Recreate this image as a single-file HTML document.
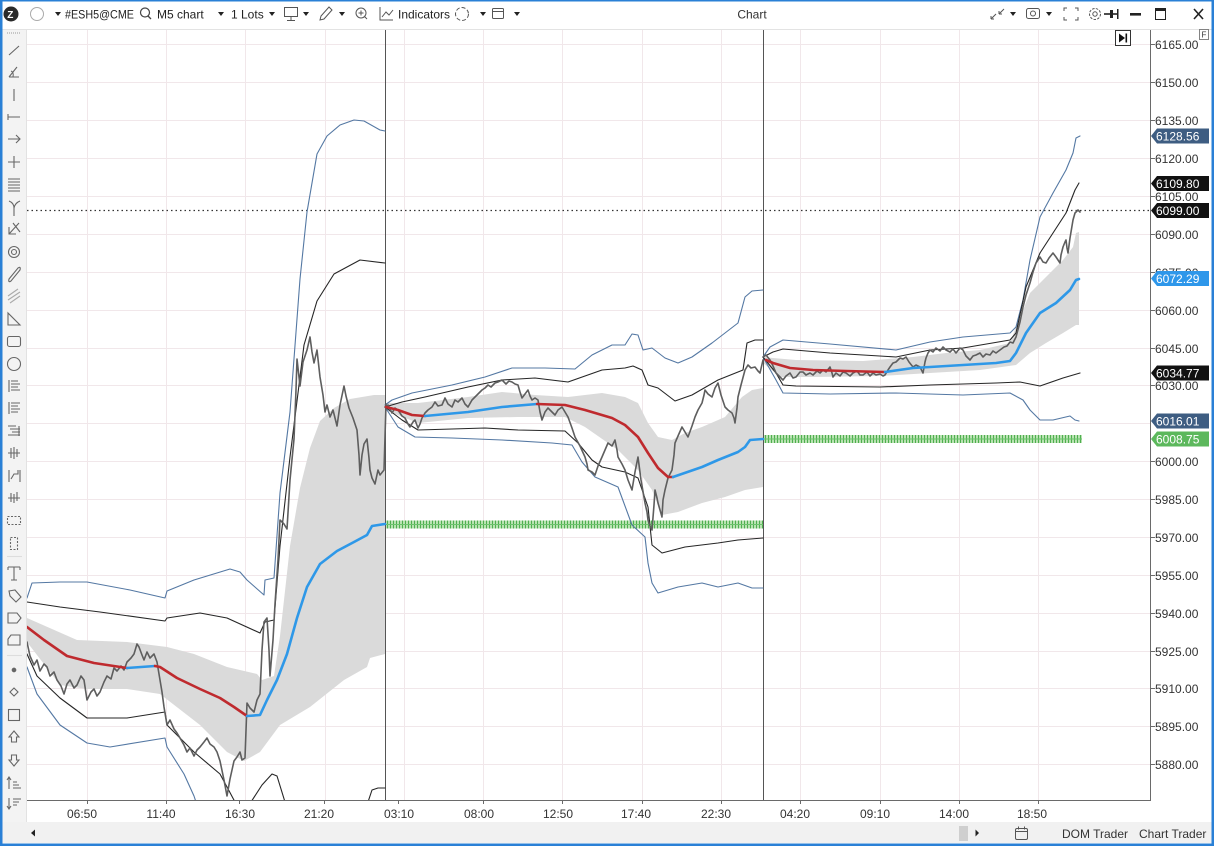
<!DOCTYPE html>
<html><head><meta charset="utf-8">
<style>
html,body{margin:0;padding:0;background:#fff;}
svg{display:block;}
text{font-family:"Liberation Sans",sans-serif;}
</style></head>
<body>
<svg width="1214" height="846" viewBox="0 0 1214 846" xmlns="http://www.w3.org/2000/svg">
<defs>
<clipPath id="plot"><rect x="27" y="30" width="1123" height="770"/></clipPath>
<pattern id="hatch" width="3" height="8" patternUnits="userSpaceOnUse">
<rect width="3" height="8" fill="#b9e3b2"/><rect x="0" width="1" height="8" fill="#4fae4f"/>
</pattern>
</defs>

<!-- backgrounds -->
<rect x="0" y="0" width="1214" height="846" fill="#fff"/>
<rect x="0" y="0" width="1214" height="29" fill="#fff"/>
<line x1="0" y1="29.5" x2="1214" y2="29.5" stroke="#e3e3e3"/>
<rect x="2" y="30" width="25" height="792" fill="#f3f3f3"/>
<line x1="26.5" y1="30" x2="26.5" y2="822" stroke="#e2e2e2"/>

<!-- grid -->
<g stroke="#f1e7ea" stroke-width="1">
<line x1="27" x2="1150" y1="44.5" y2="44.5"/><line x1="27" x2="1150" y1="82.5" y2="82.5"/><line x1="27" x2="1150" y1="120.5" y2="120.5"/><line x1="27" x2="1150" y1="158.5" y2="158.5"/><line x1="27" x2="1150" y1="196.5" y2="196.5"/><line x1="27" x2="1150" y1="234.5" y2="234.5"/><line x1="27" x2="1150" y1="272.5" y2="272.5"/><line x1="27" x2="1150" y1="310.5" y2="310.5"/><line x1="27" x2="1150" y1="348.5" y2="348.5"/><line x1="27" x2="1150" y1="385.5" y2="385.5"/><line x1="27" x2="1150" y1="423.5" y2="423.5"/><line x1="27" x2="1150" y1="461.5" y2="461.5"/><line x1="27" x2="1150" y1="499.5" y2="499.5"/><line x1="27" x2="1150" y1="537.5" y2="537.5"/><line x1="27" x2="1150" y1="575.5" y2="575.5"/><line x1="27" x2="1150" y1="613.5" y2="613.5"/><line x1="27" x2="1150" y1="651.5" y2="651.5"/><line x1="27" x2="1150" y1="688.5" y2="688.5"/><line x1="27" x2="1150" y1="726.5" y2="726.5"/><line x1="27" x2="1150" y1="764.5" y2="764.5"/>
<line y1="30" y2="800" x1="87.5" x2="87.5"/><line y1="30" y2="800" x1="166.5" x2="166.5"/><line y1="30" y2="800" x1="245.5" x2="245.5"/><line y1="30" y2="800" x1="325.5" x2="325.5"/><line y1="30" y2="800" x1="404.5" x2="404.5"/><line y1="30" y2="800" x1="483.5" x2="483.5"/><line y1="30" y2="800" x1="562.5" x2="562.5"/><line y1="30" y2="800" x1="642.5" x2="642.5"/><line y1="30" y2="800" x1="721.5" x2="721.5"/><line y1="30" y2="800" x1="800.5" x2="800.5"/><line y1="30" y2="800" x1="880.5" x2="880.5"/><line y1="30" y2="800" x1="959.5" x2="959.5"/><line y1="30" y2="800" x1="1038.5" x2="1038.5"/>
</g>

<g clip-path="url(#plot)">
<g fill="#dadada" stroke="none">
<polygon points="27,618 77,640 127,642 167,647 194,654 227,667 257,674 262,680 274,676 280,636 290,546 300,488 310,448 320,421 334,408 350,399 374,395 385,395 385,654 370,658 367,667 344,680 310,707 280,725 260,752 244,761 227,752 200,725 160,694 127,689 87,689 60,685 27,642"/>
<polygon points="385,403 418,403 468,397 502,392 535,395 568,397 602,393 625,397 638,403 648,423 658,437 672,440 685,433 702,427 725,417 742,397 752,390 763,388 763,487 745,490 725,497 702,503 678,512 662,515 652,490 638,470 618,450 585,427 565,417 518,417 468,418 418,423 385,410"/>
<polygon points="763,357 773,358 796,360 863,361 913,357 946,353 980,350 1010,343 1016,327 1030,293 1046,277 1063,260 1073,247 1076,233 1079,232 1079,325 1076,325 1063,333 1046,343 1030,353 1016,365 980,370 930,373 880,376 813,377 780,377 763,363"/>
</g>

<rect x="386" y="520.5" width="377" height="8" fill="url(#hatch)"/>
<line x1="386" x2="763" y1="524.5" y2="524.5" stroke="#6cc46c" stroke-width="1"/>
<rect x="764" y="435" width="318" height="8" fill="url(#hatch)"/>
<line x1="764" x2="1082" y1="439" y2="439" stroke="#6cc46c" stroke-width="1"/>

<line x1="27" x2="1150" y1="210.5" y2="210.5" stroke="#333" stroke-width="1.3" stroke-dasharray="1.5 3"/>

<line x1="385.5" x2="385.5" y1="30" y2="800" stroke="#555" stroke-width="1"/>
<line x1="763.5" x2="763.5" y1="30" y2="800" stroke="#555" stroke-width="1"/>

<g fill="none" stroke-linejoin="round" stroke-linecap="round">
<g stroke="#5478a3" stroke-width="1.1">
<polyline points="27,598 32,583 60,582 87,582 130,590 165,598 167,591 194,580 230,569 240,572 247,580 264,595 265,580 274,578 280,493 290,412 300,279 307,212 317,154 327,136 340,125 354,120 364,121 380,130 385,131"/>
<polyline points="27,667 37,694 60,725 87,743 110,747 165,738 167,747 184,774 194,796 197,805"/>
<polyline points="385,405 392,400 412,393 452,385 485,377 512,368 545,368 575,369 592,355 612,345 625,345 632,334 638,335 643,350 652,348 665,358 678,363 692,357 712,343 738,323 745,297 752,291 763,290"/>
<polyline points="385,407 398,427 415,437 452,438 502,440 552,443 572,445 582,462 595,477 618,487 632,525 645,537 648,563 652,583 658,593 678,587 702,583 718,587 738,583 752,588 763,588"/>
<polyline points="763,357 770,347 783,340 830,344 896,350 930,342 963,337 1010,333 1016,327 1023,300 1030,260 1040,217 1053,193 1066,170 1073,153 1076,138 1080,136"/>
<polyline points="763,357 776,380 783,393 830,394 896,393 963,395 1010,393 1023,400 1030,410 1040,420 1053,420 1070,416 1075,420 1079,421"/>
</g>
<g stroke="#262626" stroke-width="1.1">
<polyline points="27,602 60,607 100,612 165,621 167,618 200,613 227,618 260,633 265,622 274,620 280,546 290,457 304,345 317,301 334,274 360,260 385,263"/>
<polyline points="27,654 37,676 60,698 87,718 127,718 165,712 167,725 194,752 220,774 227,787 235,802"/>
<polyline points="251,802 262,785 272,774 277,776 285,802"/>
<polyline points="368,802 372,790 378,788 385,788"/>
<polyline points="385,407 402,402 425,397 468,387 502,380 535,378 568,382 602,370 625,368 633,366 642,370 648,385 658,388 675,401 692,395 718,380 743,370 747,343 755,340 763,340"/>
<polyline points="385,407 402,420 418,430 452,429 485,428 518,430 565,431 578,443 592,460 602,467 625,472 638,478 648,507 652,545 662,553 685,547 718,543 738,540 763,538"/>
<polyline points="763,357 773,352 783,349 830,353 896,357 930,350 963,348 1010,340 1016,333 1026,287 1040,253 1053,233 1066,213 1075,190 1079,183"/>
<polyline points="763,357 776,373 783,385 796,386 880,387 930,385 996,383 1020,382 1040,386 1063,378 1080,373"/>
</g>
<g stroke="#5e5e5e" stroke-width="1.6">
<polyline points="27,642 30,656 34,665 37,660 40,671 44,664 47,667 50,676 54,672 57,680 61,686 64,694 67,684 70,680 74,688 77,685 81,676 84,680 87,700 91,692 94,689 97,696 100,692 104,682 107,676 111,679 114,668 117,671 121,666 124,670 127,662 131,658 134,654 137,644 139,647 142,655 144,660 147,652 150,658 154,654 157,662 160,680 162,692 164,707 167,725 170,720 174,729 177,733 180,738 184,745 187,752 190,748 194,756 197,750 200,747 204,742 207,738 210,744 214,747 217,752 220,761 224,780 227,796 230,779 232,770 234,761 237,757 240,752 242,760 245,758 247,703 250,708 254,712 257,700 260,694 262,650 264,622 267,618 269,650 270,676 273,640 275,604 278,560 280,520 284,524 287,529 290,480 294,439 296,390 297,359 300,386 303,362 307,350 310,337 312,352 314,363 317,350 319,368 320,377 323,395 325,412 327,405 330,417 333,410 337,426 340,405 344,386 346,396 349,408 353,418 357,430 359,455 360,475 362,455 364,444 367,439 369,458 370,470 372,478 375,484 378,470 380,475 384,470 386,404"/>
<polyline points="385,407 388,405 392,413 395,408 398,410 402,416 405,418 408,424 410,427 413,422 415,420 418,428 420,424 422,418 425,413 428,410 432,407 435,402 438,406 442,405 445,398 448,404 452,407 455,400 458,402 462,398 465,404 468,407 472,400 475,397 478,394 482,390 485,388 488,385 491,387 495,383 498,382 502,380 506,384 509,381 512,382 515,384 518,385 520,392 522,398 525,394 528,390 530,396 532,400 535,398 538,400 540,412 542,420 545,412 548,408 552,412 555,415 558,410 562,407 565,412 568,417 572,428 575,437 580,446 585,457 587,464 588,470 592,472 595,475 598,466 602,457 605,450 608,443 612,446 615,440 617,450 618,457 622,464 625,470 628,480 632,490 635,472 638,457 641,480 645,503 647,512 648,520 650,526 652,530 654,505 655,490 657,498 658,503 660,510 662,517 663,500 665,490 668,478 672,470 674,455 675,443 678,436 682,427 685,432 688,437 692,426 695,417 698,410 702,403 704,395 705,390 708,394 712,397 715,388 718,383 721,395 725,407 728,410 732,413 734,418 735,423 737,408 738,397 741,385 745,370 748,365 751,368 755,367 758,371 760,373 763,360"/>
<polyline points="763,357 766,355 770,360 773,366 776,373 780,377 783,380 786,376 790,373 793,378 796,377 800,372 803,372 806,375 810,373 813,375 817,371 820,373 823,370 826,372 830,367 832,373 833,377 836,373 840,376 843,372 846,373 850,376 853,373 857,371 860,375 863,375 867,372 870,376 873,373 876,375 880,374 883,376 885,375 888,370 890,367 893,363 896,362 900,358 903,359 906,357 909,362 913,367 916,365 920,367 923,373 925,362 926,358 928,353 930,350 933,352 936,348 940,351 943,347 946,350 950,352 953,349 956,353 960,348 963,350 966,356 970,360 973,356 976,355 980,353 983,357 986,354 990,355 993,351 996,353 1000,350 1004,347 1007,346 1010,342 1013,343 1016,337 1020,322 1023,307 1026,295 1030,283 1033,272 1036,263 1038,260 1040,257 1043,262 1046,263 1049,258 1053,253 1056,257 1060,263 1061,255 1063,247 1065,242 1066,240 1067,248 1068,253 1070,238 1073,220 1075,213 1078,210 1080,212"/>
</g>
<g stroke-width="2.6">
<polyline stroke="#bf2a2e" points="27,627 44,640 67,656 94,663 127,668"/>
<polyline stroke="#2e98e8" points="127,668 155,666"/>
<polyline stroke="#bf2a2e" points="155,666 160,667 177,678 200,689 220,698 234,707 247,716"/>
<polyline stroke="#2e98e8" points="247,716 260,715 267,700 277,680 287,654 297,618 307,587 320,564 337,551 354,542 367,535 372,526 385,524"/>
<polyline stroke="#bf2a2e" points="386,407 398,410 412,415 425,416"/>
<polyline stroke="#2e98e8" points="425,416 468,412 502,407 537,404"/>
<polyline stroke="#bf2a2e" points="537,404 565,405 585,410 612,418 625,425 638,437 648,453 658,468 668,477 673,477"/>
<polyline stroke="#2e98e8" points="673,477 702,467 718,460 738,452 745,447 750,440 763,439"/>
<polyline stroke="#bf2a2e" points="766,360 773,363 790,368 813,370 846,371 885,372"/>
<polyline stroke="#2e98e8" points="885,372 913,368 930,367 963,365 996,363 1010,361 1016,353 1026,333 1040,313 1056,303 1070,290 1076,280 1079,279"/>
</g>
</g>
</g>

<line x1="1150.5" x2="1150.5" y1="30" y2="801" stroke="#6a6a6a"/>
<line x1="27" x2="1151" y1="800.5" y2="800.5" stroke="#6a6a6a"/>

<g font-size="12" fill="#333" stroke="none">
<g stroke="#6a6a6a"><line x1="1150" x2="1155" y1="44.5" y2="44.5"/><line x1="1150" x2="1155" y1="82.5" y2="82.5"/><line x1="1150" x2="1155" y1="120.5" y2="120.5"/><line x1="1150" x2="1155" y1="158.5" y2="158.5"/><line x1="1150" x2="1155" y1="196.5" y2="196.5"/><line x1="1150" x2="1155" y1="234.5" y2="234.5"/><line x1="1150" x2="1155" y1="272.5" y2="272.5"/><line x1="1150" x2="1155" y1="310.5" y2="310.5"/><line x1="1150" x2="1155" y1="348.5" y2="348.5"/><line x1="1150" x2="1155" y1="385.5" y2="385.5"/><line x1="1150" x2="1155" y1="461.5" y2="461.5"/><line x1="1150" x2="1155" y1="499.5" y2="499.5"/><line x1="1150" x2="1155" y1="537.5" y2="537.5"/><line x1="1150" x2="1155" y1="575.5" y2="575.5"/><line x1="1150" x2="1155" y1="613.5" y2="613.5"/><line x1="1150" x2="1155" y1="651.5" y2="651.5"/><line x1="1150" x2="1155" y1="688.5" y2="688.5"/><line x1="1150" x2="1155" y1="726.5" y2="726.5"/><line x1="1150" x2="1155" y1="764.5" y2="764.5"/></g>
<text x="1155" y="49">6165.00</text>
<text x="1155" y="87">6150.00</text>
<text x="1155" y="125">6135.00</text>
<text x="1155" y="163">6120.00</text>
<text x="1155" y="201">6105.00</text>
<text x="1155" y="239">6090.00</text>
<text x="1155" y="277">6075.00</text>
<text x="1155" y="315">6060.00</text>
<text x="1155" y="353">6045.00</text>
<text x="1155" y="390">6030.00</text>
<text x="1155" y="466">6000.00</text>
<text x="1155" y="504">5985.00</text>
<text x="1155" y="542">5970.00</text>
<text x="1155" y="580">5955.00</text>
<text x="1155" y="618">5940.00</text>
<text x="1155" y="656">5925.00</text>
<text x="1155" y="693">5910.00</text>
<text x="1155" y="731">5895.00</text>
<text x="1155" y="769">5880.00</text>
</g>

<g font-size="12" fill="#fff">
<path d="M1151,136 L1157,128.5 L1209,128.5 L1209,143.5 L1157,143.5 Z" fill="#3e5d82"/><text x="1156" y="140.5">6128.56</text>
<path d="M1151,183.5 L1157,176 L1209,176 L1209,191 L1157,191 Z" fill="#111"/><text x="1156" y="188">6109.80</text>
<path d="M1151,210.5 L1157,203 L1209,203 L1209,218 L1157,218 Z" fill="#111"/><text x="1156" y="215">6099.00</text>
<path d="M1151,278.5 L1157,271 L1209,271 L1209,286 L1157,286 Z" fill="#2e97ea"/><text x="1156" y="283">6072.29</text>
<path d="M1151,373 L1157,365.5 L1209,365.5 L1209,380.5 L1157,380.5 Z" fill="#111"/><text x="1156" y="377.5">6034.77</text>
<path d="M1151,421 L1157,413.5 L1209,413.5 L1209,428.5 L1157,428.5 Z" fill="#3e5d82"/><text x="1156" y="425.5">6016.01</text>
<path d="M1151,439 L1157,431.5 L1209,431.5 L1209,446.5 L1157,446.5 Z" fill="#5cb85c"/><text x="1156" y="443.5">6008.75</text>
</g>

<rect x="1115.5" y="30.5" width="15" height="15" fill="#fff" stroke="#333"/>
<path d="M1119,33.5 L1125,38 L1119,42.5 Z" fill="#111"/><rect x="1125.5" y="33.5" width="1.6" height="9" fill="#111"/>
<rect x="1199.5" y="29.5" width="9" height="10" fill="#fff" stroke="#666" stroke-width="0.8"/>
<text x="1201.5" y="37.5" font-size="8" fill="#333">F</text>

<g stroke="#6a6a6a"><line x1="87.5" x2="87.5" y1="800" y2="804"/><line x1="166.5" x2="166.5" y1="800" y2="804"/><line x1="239.5" x2="239.5" y1="800" y2="804"/><line x1="324.5" x2="324.5" y1="800" y2="804"/><line x1="398.5" x2="398.5" y1="800" y2="804"/><line x1="483.5" x2="483.5" y1="800" y2="804"/><line x1="562.5" x2="562.5" y1="800" y2="804"/><line x1="642.5" x2="642.5" y1="800" y2="804"/><line x1="721.5" x2="721.5" y1="800" y2="804"/><line x1="800.5" x2="800.5" y1="800" y2="804"/><line x1="880.5" x2="880.5" y1="800" y2="804"/><line x1="959.5" x2="959.5" y1="800" y2="804"/><line x1="1038.5" x2="1038.5" y1="800" y2="804"/></g>
<g font-size="12" fill="#333" text-anchor="middle">
<text x="82" y="818">06:50</text><text x="161" y="818">11:40</text><text x="240" y="818">16:30</text><text x="319" y="818">21:20</text><text x="399" y="818">03:10</text><text x="479" y="818">08:00</text><text x="558" y="818">12:50</text><text x="636" y="818">17:40</text><text x="716" y="818">22:30</text><text x="795" y="818">04:20</text><text x="875" y="818">09:10</text><text x="954" y="818">14:00</text><text x="1032" y="818">18:50</text>
</g>

<rect x="2" y="822" width="1210" height="21" fill="#f1f1f1"/>
<path d="M31,833 L35,829.5 L35,836.5 Z" fill="#222"/>
<rect x="959" y="826" width="9" height="15" fill="#cfcfcf"/>
<path d="M979,833 L975.5,829.5 L975.5,836.5 Z" fill="#222"/>
<rect x="1015.5" y="828.5" width="12" height="11" rx="1.5" fill="none" stroke="#555"/>
<line x1="1015.5" x2="1027.5" y1="831.5" y2="831.5" stroke="#555"/>
<line x1="1018.5" x2="1018.5" y1="826.5" y2="829.5" stroke="#555"/><line x1="1024.5" x2="1024.5" y1="826.5" y2="829.5" stroke="#555"/>
<g font-size="12" fill="#333"><text x="1062" y="838">DOM Trader</text><text x="1139" y="838">Chart Trader</text></g>

<g font-size="12" fill="#222">
<circle cx="11" cy="14" r="7.5" fill="#2a2a2a"/>
<text x="7.2" y="18" font-size="10" font-weight="bold" fill="#fff">Z</text>
<circle cx="37" cy="14" r="6.5" fill="none" stroke="#aaa"/>
<path d="M55,12 L61,12 L58,16 Z"/>
<text x="65" y="18.5" textLength="69" lengthAdjust="spacingAndGlyphs">#ESH5@CME</text>
<circle cx="145" cy="12.5" r="4.5" fill="none" stroke="#444" stroke-width="1.2"/><line x1="148" y1="16" x2="151" y2="19" stroke="#444" stroke-width="1.3"/>
<text x="157" y="18.5">M5 chart</text>
<path d="M218,12 L224,12 L221,16 Z"/>
<text x="231" y="18.5">1 Lots</text>
<path d="M269,12 L275,12 L272,16 Z"/>
<rect x="284.5" y="7.5" width="13" height="9" fill="none" stroke="#555"/><line x1="291" y1="17" x2="291" y2="20" stroke="#555"/><line x1="287" y1="20.5" x2="295" y2="20.5" stroke="#555"/>
<path d="M303,12 L309,12 L306,16 Z"/>
<path d="M320,20 L321,16 L329,7 L332,10 L324,19 Z" fill="none" stroke="#555"/>
<path d="M339,12 L345,12 L342,16 Z"/>
<circle cx="361" cy="13" r="5" fill="none" stroke="#555"/><line x1="358.5" x2="363.5" y1="13" y2="13" stroke="#555"/><line x1="361" x2="361" y1="10.5" y2="15.5" stroke="#555"/><line x1="364.5" y1="16.5" x2="367" y2="19" stroke="#555"/>
<path d="M380,7 L380,20 L393,20" fill="none" stroke="#555"/><path d="M382,17 L386,12 L389,15 L393,10" fill="none" stroke="#555"/>
<text x="398" y="18.5">Indicators</text>
<circle cx="462" cy="14" r="6.5" fill="none" stroke="#555" stroke-dasharray="4 2"/>
<path d="M480,12 L486,12 L483,16 Z"/>
<rect x="492.5" y="8.5" width="11" height="10" rx="1" fill="none" stroke="#555"/><line x1="492.5" x2="503.5" y1="11.5" y2="11.5" stroke="#555"/>
<path d="M514,12 L520,12 L517,16 Z"/>
<text x="752" y="18.5" text-anchor="middle" fill="#333">Chart</text>
<path d="M991,19 L996,14 M991,19 L991,16 M991,19 L994,19 M1004,9 L999,14 M999,14 L999,11 M999,14 L1002,14" stroke="#555" fill="none"/>
<path d="M1010,12 L1016,12 L1013,16 Z"/>
<rect x="1026.5" y="8.5" width="13" height="10" rx="2" fill="none" stroke="#555"/><circle cx="1033" cy="13.5" r="2.5" fill="none" stroke="#555"/>
<path d="M1046,12 L1052,12 L1049,16 Z"/>
<path d="M1064,11 L1064,8 L1067,8 M1075,8 L1078,8 L1078,11 M1064,17 L1064,20 L1067,20 M1078,17 L1078,20 L1075,20" stroke="#555" fill="none"/>
<circle cx="1095" cy="14" r="5.5" fill="none" stroke="#555" stroke-dasharray="2.5 1.3"/><circle cx="1095" cy="14" r="2.2" fill="none" stroke="#555"/>
<path d="M1104,14 L1118,14" stroke="#222" stroke-width="1.6"/><rect x="1110" y="10" width="3" height="8" fill="#222"/><rect x="1117" y="9" width="1.5" height="10" fill="#222"/>
<rect x="1130" y="13" width="11" height="2.6" fill="#222"/>
<rect x="1155.5" y="8.5" width="10" height="11" fill="none" stroke="#222"/><rect x="1155.5" y="8.5" width="10" height="2.5" fill="#222"/>
<path d="M1194,9 L1203,19 M1203,9 L1194,19" stroke="#222" stroke-width="1.6"/>
</g>

<g stroke="#666" fill="none" stroke-width="1.1">
<path d="M7,33 h14" stroke-dasharray="1 1" stroke="#999"/>
<path d="M9,55 L19,46"/>
<path d="M9,77 L19,77 M9,77 L17,67 M13,77 Q14,72 11,71"/>
<path d="M14,89 L14,101"/>
<path d="M8,117 L20,117 M8,114 L8,120"/>
<path d="M8,139 L20,139 M16,135 L20,139 L16,143"/>
<path d="M8,162 L20,162 M14,156 L14,168"/>
<path d="M8,179 h12 M8,182 h12 M8,185 h12 M8,188 h12 M8,191 h12"/>
<path d="M14,216 L14,208 Q14,203 9,201 M14,208 Q15,203 20,201"/>
<path d="M19,223 L9,234 M9,227 L9,234 L16,234 M13,223 L20,232"/>
<circle cx="14" cy="252" r="5.5"/><circle cx="14" cy="252" r="2.5"/>
<path d="M9,279 L18,268 Q21,266 20,270 L11,281 Q8,283 9,279 Z"/>
<path d="M8,300 L20,292 M8,296 L18,289 M10,303 L20,296" stroke="#aaa"/>
<path d="M8,325 L8,313 L20,325 Z"/>
<rect x="7.5" y="336.5" width="13" height="10" rx="2"/>
<circle cx="14" cy="364" r="6.5"/>
<path d="M9,380 L9,392 M11,381 h7 M11,384 h9 M11,387 h7 M11,390 h9"/>
<path d="M9,402 L9,414 M11,403 h9 M11,406 h7 M11,409 h9 M11,412 h7"/>
<path d="M8,426 h8 M10,429 h10 M12,432 h8 M8,435 h12 M19,426 L19,436"/>
<path d="M8,453 h12 M11,448 L11,458 M14,447 L14,459 M17,449 L17,457"/>
<path d="M9,470 L9,482 M11,479 L14,474 L18,474 L18,470 M20,470 L20,482"/>
<path d="M8,498 h12 M11,493 L11,502 M14,494 L14,503 M17,492 L17,501"/>
<rect x="7.5" y="516.5" width="13" height="8" stroke-dasharray="2 1.5"/>
<rect x="10.5" y="537.5" width="7" height="12" stroke-dasharray="2 1.5"/>
<path d="M7,556.5 h15" stroke="#ddd"/>
<path d="M8,567 L20,567 M8,567 L8,570 M20,567 L20,570 M14,567 L14,580 M11,580 h6"/>
<path d="M9,591 L15,590 L21,597 L16,602 L10,596 Z"/>
<path d="M8,613 L17,613 L21,618 L17,623 L8,623 Z"/>
<path d="M11,635 L20,635 L20,645 L8,645 L8,639 Z"/>
<path d="M7,655.5 h15" stroke="#ddd"/>
<circle cx="14" cy="670" r="1.8" fill="#666"/>
<path d="M14,688 L18,692 L14,696 L10,692 Z"/>
<rect x="8.5" y="709.5" width="11" height="11"/>
<path d="M14,731 L19,737 L16.5,737 L16.5,742 L11.5,742 L11.5,737 L9,737 Z"/>
<path d="M14,766 L19,760 L16.5,760 L16.5,755 L11.5,755 L11.5,760 L9,760 Z"/>
<path d="M9,778 L9,789 M7,780 L9,777 L11,780 M13,782 h4 M13,785 h6 M13,788 h8"/>
<path d="M9,798 L9,809 M7,806 L9,809 L11,806 M13,799 h8 M13,802 h6 M13,805 h4"/>
</g>

<rect x="0" y="0" width="2.5" height="846" fill="#2a80d6"/>
<rect x="1211.5" y="0" width="2.5" height="846" fill="#2a80d6"/>
<rect x="0" y="0" width="1214" height="1.5" fill="#2a80d6"/>
<rect x="0" y="843.5" width="1214" height="2.5" fill="#2a80d6"/>
</svg>
</body></html>
